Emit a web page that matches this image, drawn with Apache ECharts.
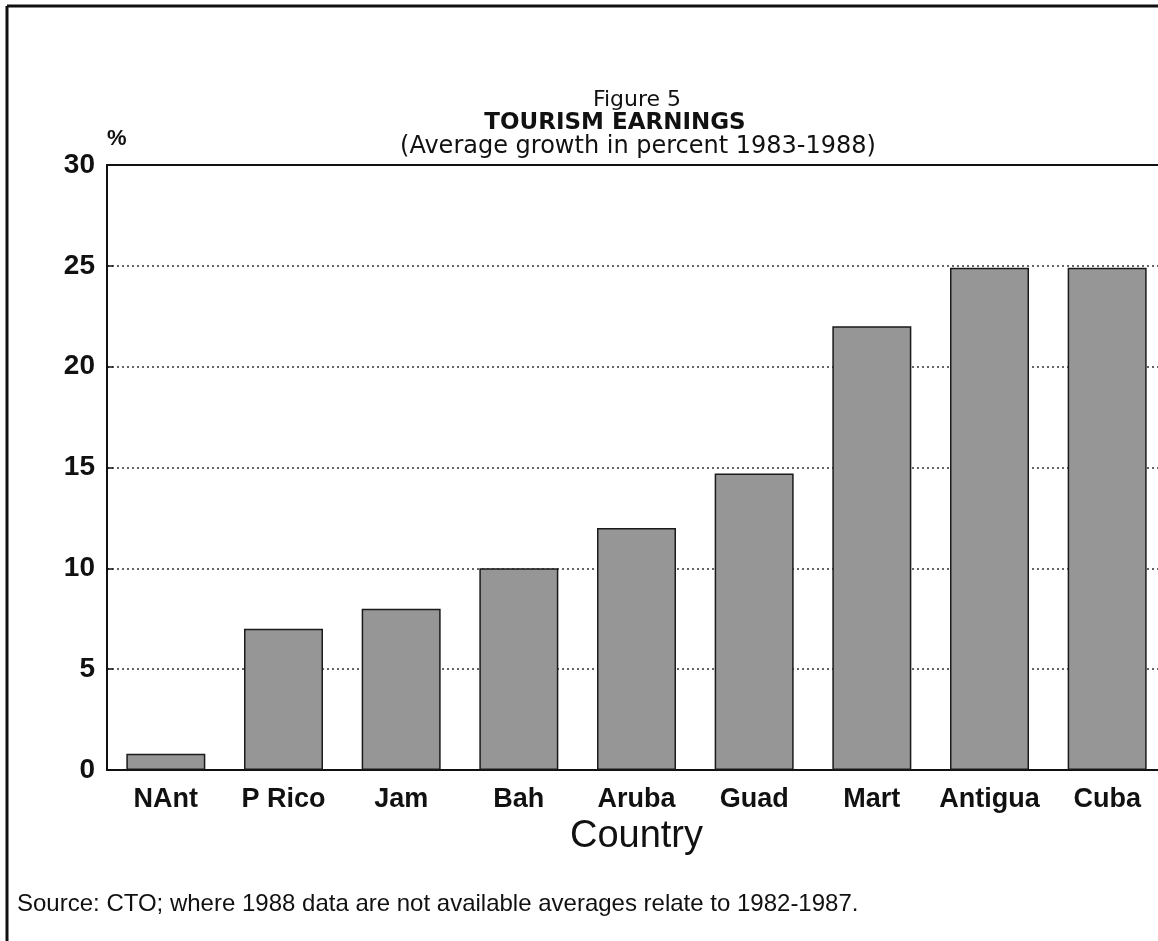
<!DOCTYPE html>
<html>
<head>
<meta charset="utf-8">
<script src="https://cdn.jsdelivr.net/npm/echarts@6/dist/echarts.min.js"></script>
<style>
    html, body { margin: 0; padding: 0; background: #fff; }
    #chart { width: 1158px; height: 941px; }
</style>
</head>
<body>
<div id="chart"></div>
<script>
var countries = ['NAnt', 'P Rico', 'Jam', 'Bah', 'Aruba', 'Guad', 'Mart', 'Antigua', 'Cuba'];
var growth = [0.8, 7.0, 8.0, 10.0, 12.0, 14.7, 22.0, 24.9, 24.9];
var yTicks = [0, 5, 10, 15, 20, 25, 30];

var font = 'Liberation Sans';
var wideFont = 'DejaVu Sans';

function drawChart(divID) {
    var myChart = echarts.init(document.getElementById(divID));
    var option = {
        backgroundColor: '#fff',
        animation: false,
        title: [
            {
                text: 'Figure 5', left: 632, top: 84, textAlign: 'center',
                textStyle: { fontFamily: wideFont, fontSize: 22, fontWeight: 'normal', color: '#111' }
            },
            {
                text: 'TOURISM EARNINGS', left: 610, top: 107, textAlign: 'center',
                textStyle: { fontFamily: wideFont, fontSize: 23, fontWeight: 'bold', color: '#111' }
            },
            {
                text: '(Average growth in percent 1983-1988)', left: 633, top: 130, textAlign: 'center',
                textStyle: { fontFamily: wideFont, fontSize: 24, fontWeight: 'normal', color: '#111' }
            },
            {
                text: 'Source: CTO; where 1988 data are not available averages relate to 1982-1987.',
                left: 12, top: 887,
                textStyle: { fontFamily: font, fontSize: 24, fontWeight: 'normal', color: '#111' }
            }
        ],
        grid: {
            left: 107,
            top: 165,
            width: 1059,
            height: 605,
            outerBoundsMode: 'none'
        },
        xAxis: [
            {
                type: 'category',
                data: countries,
                name: 'Country',
                nameLocation: 'middle',
                nameGap: 44,
                nameTextStyle: { fontFamily: font, fontSize: 38, color: '#111' },
                axisLine: { lineStyle: { color: '#111', width: 2 } },
                axisTick: { show: true, inside: true, length: 8, alignWithLabel: true, lineStyle: { color: '#111', width: 2 } },
                axisLabel: {
                    interval: 0,
                    fontFamily: font, fontSize: 27, fontWeight: 'bold', color: '#111', margin: 16
                }
            },
            {
                type: 'category',
                data: countries,
                position: 'top',
                axisLine: { lineStyle: { color: '#111', width: 2 } },
                axisTick: { show: false },
                axisLabel: { show: false }
            }
        ],
        yAxis: {
            type: 'value',
            min: yTicks[0],
            max: yTicks[yTicks.length - 1],
            interval: 5,
            name: '%',
            nameGap: 15,
            nameTextStyle: { fontFamily: font, fontSize: 22, fontWeight: 'bold', color: '#111', align: 'left' },
            axisLine: { show: true, lineStyle: { color: '#111', width: 2 } },
            axisTick: { show: true, inside: true, length: 6, lineStyle: { color: '#111', width: 1.5 } },
            axisLabel: {
                fontFamily: font, fontSize: 28, fontWeight: 'bold', color: '#111', margin: 12
            },
            splitLine: {
                lineStyle: { color: '#333', type: [2, 3], width: 1.5 }
            }
        },
        series: [{
            type: 'bar',
            data: growth,
            barWidth: 79,
            itemStyle: {
                color: '#969696',
                borderColor: '#1a1a1a',
                borderWidth: 1.5
            }
        }],
        graphic: [
            { type: 'line', shape: { x1: 7, y1: 6, x2: 7, y2: 941 }, style: { stroke: '#111', lineWidth: 3 } },
            { type: 'line', shape: { x1: 7, y1: 6, x2: 1158, y2: 6 }, style: { stroke: '#111', lineWidth: 3 } }
        ]
    };
    myChart.setOption(option);
}

drawChart('chart');
</script>
</body>
</html>
